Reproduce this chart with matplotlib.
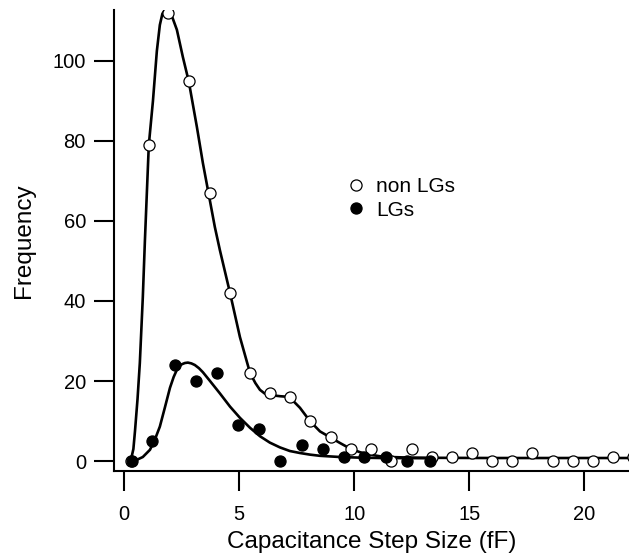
import numpy as np
import matplotlib
matplotlib.use("Agg")
import matplotlib.pyplot as plt

plt.rcParams['font.family'] = ['Liberation Sans', 'DejaVu Sans']

# histogram points, non LGs (open circles)
nonlg_x = [0.29, 1.07, 1.90, 2.81, 3.73, 4.60, 5.47, 6.33, 7.20, 8.07, 8.99, 9.86, 10.73,
           11.60, 12.51, 13.38, 14.25, 15.12, 15.99, 16.86, 17.73, 18.64, 19.51, 20.38,
           21.25, 22.12]
nonlg_y = [0, 79, 112, 95, 67, 42, 22, 17, 16, 10, 6, 3, 3, 0, 3, 1, 1, 2, 0, 0, 2, 0, 0,
           0, 1, 1]

# histogram points, LGs (filled circles)
lg_x = [0.33, 1.20, 2.20, 3.12, 4.03, 4.94, 5.86, 6.77, 7.72, 8.64, 9.55, 10.42, 11.38,
        12.29, 13.29]
lg_y = [0, 5, 24, 20, 22, 9, 8, 0, 4, 3, 1, 1, 1, 0, 0]

# fitted curves
nonlg_fit_x = [0.29, 0.40, 0.47, 0.58, 0.68, 0.81, 0.90, 1.07, 1.25, 1.42, 1.55, 1.66,
               1.77, 1.86, 1.94, 2.10, 2.29, 2.55, 2.81, 3.16, 3.42, 3.68, 3.94, 4.16,
               4.60, 5.03, 5.47, 5.70, 5.90, 6.10, 6.33, 6.77, 7.00, 7.20, 7.40, 7.64,
               8.07, 8.51, 8.99, 9.38, 9.82, 10.25, 10.69, 11.10, 11.56, 12.40, 13.30,
               16.0, 22.0]
nonlg_fit_y = [0.2, 3.0, 7.5, 15.5, 24.5, 41, 55, 79, 90, 102.5, 109, 111.8, 112.8, 112.9,
               112.4, 110.8, 107.8, 101, 94.8, 83.5, 74.5, 66.5, 58.5, 52.7, 42, 31, 22,
               19.5, 17.8, 16.9, 16.5, 16.2, 16.1, 15.6, 14.7, 13.3, 10.0, 7.4, 5.8, 4.5,
               3.1, 2.2, 1.6, 1.2, 1.0, 0.85, 0.8, 0.75, 0.75]

lg_fit_x = [0.25, 0.55, 0.81, 1.12, 1.33, 1.55, 1.77, 1.99, 2.15, 2.29, 2.40, 2.51, 2.64,
            2.77, 2.92, 3.07, 3.25, 3.42, 3.73, 4.16, 4.60, 5.03, 5.47, 5.90, 6.33, 6.77,
            7.20, 7.64, 8.07, 8.51, 9.38, 10.20, 11.12, 12.20, 13.40]
lg_fit_y = [0.3, 0.3, 1.0, 2.8, 5.3, 8.6, 13.4, 18.3, 21.0, 22.8, 23.7, 24.2, 24.5, 24.6,
            24.4, 24.0, 23.2, 22.2, 20.0, 16.9, 13.6, 10.8, 8.3, 6.2, 4.6, 3.4, 2.5, 2.0,
            1.6, 1.3, 1.0, 0.85, 0.75, 0.72, 0.7]

fig = plt.figure(figsize=(6.29, 5.54), dpi=100)
ax = fig.add_axes([0.1817, 0.1498, 0.8183, 0.8322])

ax.plot(nonlg_fit_x, nonlg_fit_y, color='black', lw=1.9, zorder=2)
ax.plot(lg_fit_x, lg_fit_y, color='black', lw=1.9, zorder=2)
ax.plot(nonlg_x, nonlg_y, 'o', ms=8, mfc='white', mec='black', mew=0.9,
        label='non LGs', zorder=3)
ax.plot(lg_x, lg_y, 'o', ms=8, mfc='black', mec='black', mew=0.9,
        label='LGs', zorder=4)

ax.set_xlim(-0.43, 21.94)
ax.set_ylim(-2.5, 112.75)
ax.set_xticks([0, 5, 10, 15, 20])
ax.set_yticks([0, 20, 40, 60, 80, 100])

for side in ['top', 'right']:
    ax.spines[side].set_visible(False)
for side in ['left', 'bottom']:
    ax.spines[side].set_linewidth(1.5)
ax.tick_params(direction='out', length=14.4, width=1.5, labelsize=14.5, pad=6)
ax.tick_params(axis='x', pad=10)

ax.set_xlabel('Capacitance Step Size (fF)', fontsize=17.5, labelpad=5)
ax.set_ylabel('Frequency', fontsize=17.5, labelpad=13)

ax.legend(loc='center left', bbox_to_anchor=(0.454, 0.591), frameon=False, fontsize=15,
          handlelength=0.8, handletextpad=0.55, labelspacing=0.2, borderaxespad=0,
          borderpad=0)

fig.savefig('out.png', dpi=100)
